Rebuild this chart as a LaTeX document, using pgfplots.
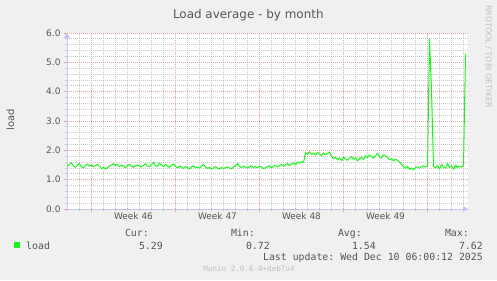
\documentclass[border=0pt]{standalone}
\usepackage{pgfplots}
\pgfplotsset{compat=1.18}
\usepackage{pgfplotstable}
\usepackage{fontspec}
\setmainfont{DejaVu Sans}
\setmonofont{DejaVu Sans Mono}
\usetikzlibrary{arrows.meta}
\definecolor{bgc}{HTML}{F0F0F0}
\definecolor{txt}{HTML}{555555}
\definecolor{axisc}{RGB}{192,198,245}
\definecolor{majgrid}{RGB}{235,160,160}
\definecolor{mingrid}{RGB}{200,200,200}
\definecolor{lgreen}{RGB}{25,245,25}
\definecolor{wmk}{HTML}{C0C0C0}

\pgfplotstableread{
i v
0 1.45
1 1.52
2 1.58
3 1.47
4 1.42
5 1.50
6 1.55
7 1.44
8 1.40
9 1.48
10 1.53
11 1.46
12 1.50
13 1.44
14 1.48
15 1.52
16 1.45
17 1.38
18 1.42
19 1.36
20 1.41
21 1.46
22 1.50
23 1.55
24 1.48
25 1.52
26 1.44
27 1.49
28 1.46
29 1.41
30 1.47
31 1.53
32 1.45
33 1.42
34 1.48
35 1.50
36 1.46
37 1.43
38 1.49
39 1.55
40 1.47
41 1.44
42 1.51
43 1.60
44 1.48
45 1.45
46 1.56
47 1.50
48 1.44
49 1.52
50 1.47
51 1.42
52 1.49
53 1.53
54 1.45
55 1.40
56 1.46
57 1.43
58 1.38
59 1.45
60 1.41
61 1.36
62 1.44
63 1.47
64 1.40
65 1.43
66 1.39
67 1.46
68 1.52
69 1.44
70 1.38
71 1.42
72 1.37
73 1.40
74 1.45
75 1.39
76 1.36
77 1.42
78 1.38
79 1.41
80 1.44
81 1.40
82 1.37
83 1.43
84 1.48
85 1.55
86 1.45
87 1.41
88 1.46
89 1.43
90 1.39
91 1.44
92 1.48
93 1.42
94 1.45
95 1.40
96 1.46
97 1.43
98 1.37
99 1.41
100 1.44
101 1.48
102 1.40
103 1.45
104 1.50
105 1.43
106 1.47
107 1.52
108 1.46
109 1.50
110 1.55
111 1.48
112 1.53
113 1.58
114 1.51
115 1.60
116 1.56
117 1.62
118 1.58
119 1.92
120 1.88
121 1.95
122 1.86
123 1.90
124 1.84
125 1.93
126 1.87
127 1.82
128 1.91
129 1.85
130 1.89
131 1.94
132 1.80
133 1.72
134 1.76
135 1.68
136 1.74
137 1.65
138 1.78
139 1.70
140 1.66
141 1.73
142 1.79
143 1.69
144 1.75
145 1.64
146 1.71
147 1.77
148 1.68
149 1.82
150 1.76
151 1.84
152 1.79
153 1.73
154 1.81
155 1.90
156 1.78
157 1.74
158 1.85
159 1.80
160 1.76
161 1.68
162 1.72
163 1.64
164 1.70
165 1.66
166 1.60
167 1.52
168 1.44
169 1.38
170 1.46
171 1.35
172 1.40
173 1.33
174 1.41
175 1.44
176 1.39
177 1.45
178 1.47
179 1.43
180 1.48
181 5.78
182 4.05
183 1.45
184 1.40
185 1.48
186 1.36
187 1.52
188 1.44
189 1.39
190 1.55
191 1.42
192 1.47
193 1.35
194 1.50
195 1.41
196 1.46
197 1.43
198 1.49
199 5.29
}\loadtable

\begin{document}
\begin{tikzpicture}[x=1bp,y=1bp]
\useasboundingbox (0,0) rectangle (497,280);
\fill[bgc] (0,0) rectangle (497,280);
\begin{axis}[
  at={(67bp,71bp)}, anchor=south west,
  scale only axis, width=401bp, height=176bp,
  xmin=-0.25, xmax=200.25, ymin=0, ymax=6,
  axis lines=left,
  axis line style={draw=axisc, line width=1bp},
  x axis line style={-{Triangle[length=5bp,width=6bp]}},
  y axis line style={-{Triangle[length=5bp,width=6bp]}},
  axis background/.style={fill=white},
  grid=both,
  major grid style={draw=majgrid, line width=0.8bp, dash pattern=on 1bp off 1bp},
  minor grid style={draw=mingrid, line width=0.8bp, dash pattern=on 1bp off 1bp},
  xtick={12,54,96,138,180}, xticklabels={},
  minor xtick={0,6,...,198},
  extra x ticks={33,75,117,159},
  extra x tick labels={Week 46,Week 47,Week 48,Week 49},
  extra x tick style={grid=none, major tick length=0pt, tick style={draw=none}},
  ytick={0,1,...,6}, minor y tick num=4,
  tick align=outside, major tick length=3bp, minor tick length=2bp,
  major tick style={draw=majgrid, line width=0.8bp},
  minor tick style={draw=mingrid, line width=0.8bp},
  yticklabel style={/pgf/number format/.cd, fixed, fixed zerofill, precision=1},
  /pgf/number format/assume math mode=true,
  ticklabel style={font=\fontsize{9}{10}\selectfont, text=txt},
  clip=false,
]
\addplot[color=lgreen, line width=1bp, mark=none, line join=round] table[x=i, y=v] {\loadtable};
\end{axis}
\node[anchor=base, inner sep=0, font=\fontsize{12}{12}\selectfont, text=txt] at (248.3,261.5) {Load average - by month};
\node[rotate=90, inner sep=0, font=\fontsize{10}{10}\selectfont, text=txt] at (10.5,160.5) {load};
\node[rotate=-90, inner sep=0, font=\fontsize{8}{8}\selectfont, text=wmk] at (488.5,223.5) {RRDTOOL / TOBI OETIKER};
\fill[lgreen] (14,32) rectangle (20,38);
\begin{scope}[every node/.style={inner sep=0, text=txt, font=\ttfamily\fontsize{9.9}{10}\selectfont}]
\node[anchor=base west] at (26,30.5) {load};
\node[anchor=base east] at (149,43.5) {Cur:};
\node[anchor=base east] at (255,43.5) {Min:};
\node[anchor=base east] at (362,43.5) {Avg:};
\node[anchor=base east] at (469,43.5) {Max:};
\node[anchor=base east] at (163,30.5) {5.29};
\node[anchor=base east] at (270,30.5) {0.72};
\node[anchor=base east] at (376,30.5) {1.54};
\node[anchor=base east] at (483,30.5) {7.62};
\node[anchor=base east] at (483,19.3) {Last update: Wed Dec 10 06:00:12 2025};
\end{scope}
\node[anchor=base, inner sep=0, text=wmk, font=\ttfamily\fontsize{7.6}{8}\selectfont] at (249,8.5) {Munin 2.0.6-4+deb7u4};
\end{tikzpicture}
\end{document}
